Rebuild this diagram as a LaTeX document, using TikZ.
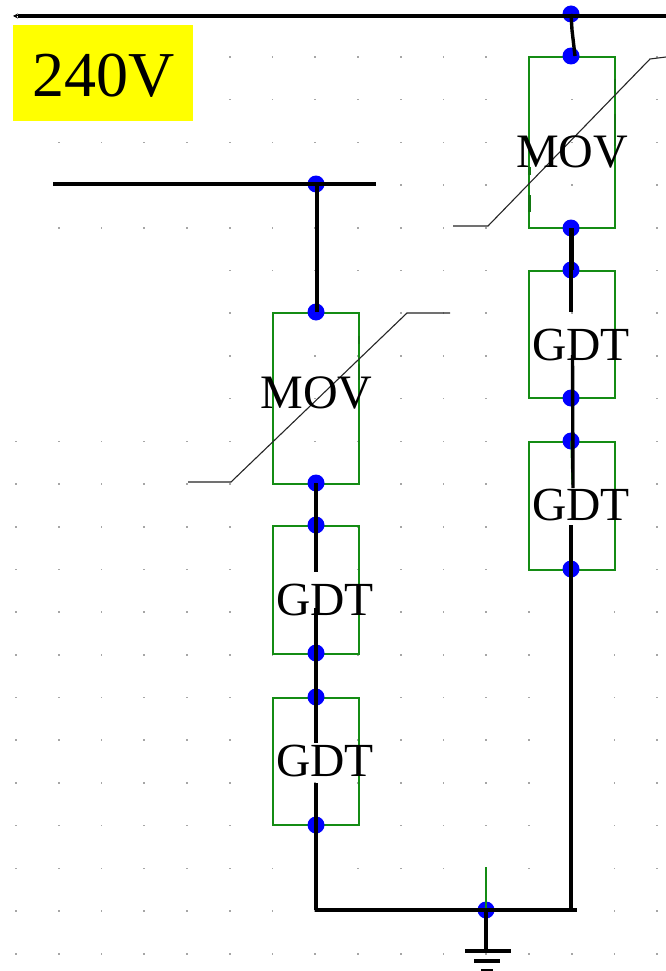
\documentclass[tikz,border=0pt]{standalone}
\usepackage{fontspec}
\setmainfont{Liberation Serif}
\usetikzlibrary{arrows.meta}
\definecolor{boxgreen}{RGB}{20,140,20}
\definecolor{pureyellow}{RGB}{255,255,0}
\definecolor{pureblue}{RGB}{0,0,255}
\tikzset{
  x=1pt,y=-1pt,
  griddot/.style={fill=black!35,draw=none},
  jn/.style={circle,fill=pureblue,draw=none,minimum size=17pt,inner sep=0pt},
  wire/.style={draw=black,line width=3.4pt},
  heavy/.style={draw=black,line width=5pt},
  bus/.style={draw=black,line width=3.8pt},
  part/.style={draw=boxgreen,line width=1.3pt,fill=none,inner sep=0pt,outer sep=0pt,minimum width=86pt,anchor=north west},
  tick/.style={draw=boxgreen!85!black,line width=2.4pt},
  thinl/.style={draw=boxgreen,line width=1.3pt},
  stub/.style={draw=black!85,line width=1.1pt,line join=miter},
  lab/.style={inner sep=0pt,anchor=base,text=black,font=\fontsize{48}{48}\selectfont},
  labg/.style={inner sep=0pt,anchor=base,text=black,font=\fontsize{47.5}{47.5}\selectfont},
  volt/.style={inner sep=0pt,anchor=base,text=black,font=\fontsize{64}{64}\selectfont}
}
\begin{document}
\begin{tikzpicture}
\useasboundingbox (0,0) rectangle (666,971);
\fill[white] (0,0) rectangle (666,971);
% background grid
\foreach \i in {0,...,15}{
  \foreach \j in {0,...,21}{
    \pgfmathtruncatemacro{\show}{(\i>=5) || (\j>=9) || (\i>=1 && \j>=2 && \j<=4) ? 1 : 0}
    \ifnum\show=1
      \fill[griddot] ({16+42.75*\i-0.8},{57+42.7*\j-0.8}) rectangle ++(1.6,1.6);
    \fi
  }
}
% label
\node[fill=pureyellow,minimum width=180pt,minimum height=96pt,inner sep=0pt,outer sep=0pt,anchor=north west] (voltbox) at (13,25) {};
% component boxes
\node[part,minimum height=171pt] (movR) at (529,57) {};
\node[part,minimum height=127pt] (gdtRa) at (529,271) {};
\node[part,minimum height=128pt] (gdtRb) at (529,442) {};
\node[part,minimum height=171pt] (movL) at (273,313) {};
\node[part,minimum height=128pt] (gdtLa) at (273,526) {};
\node[part,minimum height=127pt] (gdtLb) at (273,698) {};
% thicker pieces of box edges
\draw[tick] (615,79)--(615,93) (615,114)--(615,146) (529.5,167)--(529.5,175) (529.5,195)--(529.5,212);
\draw[tick] (359,336)--(359,344) (359,364)--(359,380);
% junctions
\node[jn] (topbusJ) at (571,14) {};
\node[jn] (movRt) at (571,56) {};
\node[jn] (movRb) at (571,228) {};
\node[jn] (gdtRat) at (571,270) {};
\node[jn] (gdtRab) at (571,398) {};
\node[jn] (gdtRbt) at (571,441) {};
\node[jn] (gdtRbb) at (571,569) {};
\node[jn] (lbusJ) at (316,184) {};
\node[jn] (movLt) at (316,312) {};
\node[jn] (movLb) at (316,483) {};
\node[jn] (gdtLat) at (316,525) {};
\node[jn] (gdtLab) at (316,653) {};
\node[jn] (gdtLbt) at (316,697) {};
\node[jn] (gdtLbb) at (316,825) {};
\node[jn] (gndJ) at (486,910) {};
% free ends
\coordinate (topL) at (13,16);
\coordinate (topLb) at (18,16);
\coordinate (topR) at (666,16);
\coordinate (lbL) at (53,184);
\coordinate (lbR) at (376,184);
\coordinate (botL) at (315,910);
\coordinate (botR) at (577,910);
\coordinate (gndTop) at (486,867);
\coordinate (g1) at (486,951);
\coordinate (kink) at (572,30);
\coordinate (kinkb) at (575,56);
\coordinate (Ra) at (571,312);
\coordinate (Rb) at (572.5,355);
\coordinate (Rc) at (573,488);
\coordinate (Rd) at (571,525);
\coordinate (La) at (316,572);
\coordinate (Lb) at (316,608);
\coordinate (Lc) at (316,743);
\coordinate (Ld) at (316,783);
\coordinate (Rgreen) at (572,484);
% thin green stubs
\draw[thinl] (gndTop)--(gndJ.center);
\draw[thinl] (gdtRbt.center)--(Rgreen);
% buses
\draw[bus] (topLb)--(topR);
\draw[-{Stealth[length=5pt,width=5pt]},line width=1pt] (topLb)--(topL);
\draw[bus] (lbL)--(lbR);
\draw[bus] (botL)--(botR);
% wires, right
\draw[wire,line join=round] (topbusJ.center)--(kink)--(kinkb);
\draw[heavy] (movRb.center)--(gdtRat.center);
\draw[wire] (gdtRat.center)--(Ra);
\draw[wire] (Rb)--(Rc);
\draw[wire] (Rd)--(571,910);
% wires, left
\draw[wire] (317,184)--(317,312);
\draw[wire] (movLb.center)--(La);
\draw[wire] (Lb)--(Lc);
\draw[wire] (Ld)--(316,910);
% ground
\draw[wire] (gndJ.center)--(g1);
\draw[bus] (465,951)--(511,951);
\draw[bus] (474,961)--(500,961);
\draw[bus] (481,970.5)--(493,970.5);
% varistor strokes
\coordinate (sR1) at (453,226); \coordinate (sR2) at (488,226); \coordinate (sR3) at (650,59); \coordinate (sR4) at (666,57);
\coordinate (sL1) at (188,482); \coordinate (sL2) at (231,482); \coordinate (sL3) at (407,313); \coordinate (sL4) at (450,313);
\draw[stub] (sR1)--(sR2)--(sR3)--(sR4);
\draw[stub] (sL1)--(sL2)--(sL3)--(sL4);
% texts
\node[volt] (t240) at (103.5,97) {240V};
\node[lab] (tmovR) at (572,167) {MOV};
\node[lab] (tmovL) at (316.5,408) {MOV};
\node[labg] (tg1) at (581,360) {GDT};
\node[labg] (tg2) at (581,520) {GDT};
\node[labg] (tg3) at (325,615) {GDT};
\node[labg] (tg4) at (325,776) {GDT};
\end{tikzpicture}
\end{document}
